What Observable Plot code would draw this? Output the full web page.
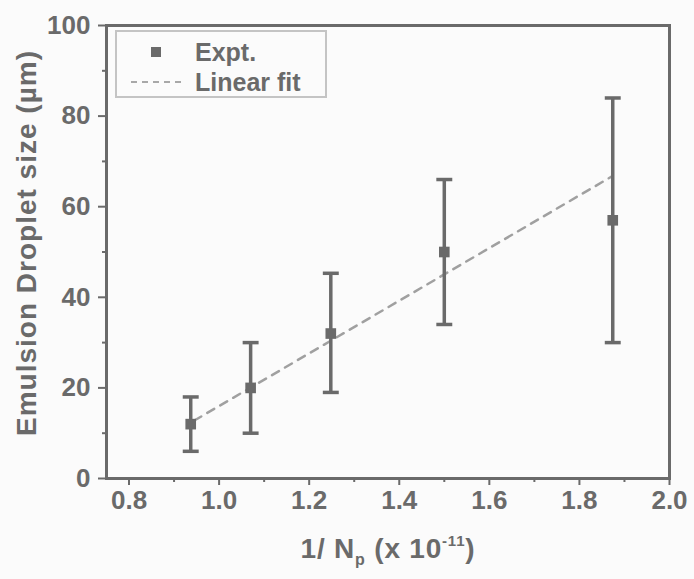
<!DOCTYPE html>
<html>
<head>
<meta charset="utf-8">
<script src="https://cdn.jsdelivr.net/npm/d3@7"></script>
<script src="https://cdn.jsdelivr.net/npm/@observablehq/plot@0.6"></script>
<style>
  html, body { margin: 0; padding: 0; background: #fbfbfb; }
  #wrap { position: relative; width: 694px; height: 579px; font-family: "Liberation Sans", Arial, sans-serif; }
  #legend { position: absolute; left: 115px; top: 30px; width: 212px; height: 68px; border: 2px solid #c4c4c4; box-sizing: border-box; background: #fbfbfb; color: #6a6a6a; font-weight: bold; font-size: 25px; }
  .row { position: absolute; left: 0; height: 30px; display: flex; align-items: center; }
  .sym { width: 78px; display: flex; justify-content: center; align-items: center; }
  .sq { width: 10px; height: 10px; background: #6a6a6a; }
  .dash { width: 50px; border-top: 2px dashed #a8a8a8; }
</style>
</head>
<body>
<div id="wrap">
  <div id="chart"></div>
  <div id="legend">
    <div class="row" style="top:5px"><div class="sym"><div class="sq"></div></div><span>Expt.</span></div>
    <div class="row" style="top:35px"><div class="sym"><div class="dash"></div></div><span>Linear fit</span></div>
  </div>
</div>
<script>
const invNp = [0.937, 1.07, 1.248, 1.5, 1.874];
const dropletSize = [12, 20, 32, 50, 57];
const errLow = [6, 10, 19, 34, 30];
const errHigh = [18, 30, 45.3, 66, 84];
const fitX = [0.945, 1.874];
const fitY = [12.8, 66.8];
const xMajor = [0.8, 1.0, 1.2, 1.4, 1.6, 1.8, 2.0];
const xMinor = [0.9, 1.1, 1.3, 1.5, 1.7, 1.9];
const yMajor = [0, 20, 40, 60, 80, 100];
const yMinor = [10, 30, 50, 70, 90];

const pts = invNp.map((x, i) => ({x, y: dropletSize[i], lo: errLow[i], hi: errHigh[i]}));
const fit = fitX.map((x, i) => ({x, y: fitY[i]}));

const gray = "#6a6a6a";
const capSymbol = {
  draw(context, size) {
    const r = Math.sqrt(size);
    context.moveTo(-r, 0);
    context.lineTo(r, 0);
  }
};
const tickFont = {fontSize: 26, fontWeight: "bold", letterSpacing: "2px"};

const chart = Plot.plot({
  width: 694,
  height: 579,
  marginLeft: 106,
  marginRight: 25,
  marginTop: 25,
  marginBottom: 101,
  style: {background: "transparent", fontFamily: "Liberation Sans, Arial, sans-serif", color: gray},
  x: {domain: [0.75, 2.0]},
  y: {domain: [0, 100]},
  marks: [
    Plot.axisX(xMajor, {tickSize: 7, tickPadding: 5, tickFormat: d3.format(".1f"), ...tickFont, strokeWidth: 2, label: null}),
    Plot.axisX(xMinor, {tickSize: 4, text: null, strokeWidth: 2, label: null}),
    Plot.axisY(yMajor, {tickSize: 8, tickPadding: 8, ...tickFont, strokeWidth: 2, label: null}),
    Plot.axisY(yMinor, {tickSize: 4, text: null, strokeWidth: 2, label: null}),
    Plot.frame({stroke: gray, strokeWidth: 3}),
    Plot.line(fit, {x: "x", y: "y", stroke: "#a0a0a0", strokeWidth: 2.5, strokeDasharray: "8,7"}),
    Plot.ruleX(pts, {x: "x", y1: "lo", y2: "hi", stroke: gray, strokeWidth: 3.5}),
    Plot.dot(pts, {x: "x", y: "lo", symbol: capSymbol, r: 4.5, stroke: gray, strokeWidth: 3.5}),
    Plot.dot(pts, {x: "x", y: "hi", symbol: capSymbol, r: 4.5, stroke: gray, strokeWidth: 3.5}),
    Plot.dot(pts, {x: "x", y: "y", symbol: "square", r: 6, fill: gray, stroke: null})
  ]
});
document.getElementById("chart").appendChild(chart);

const svg = d3.select(chart);
svg.append("text")
  .attr("transform", "translate(36,243) rotate(-90)")
  .attr("text-anchor", "middle")
  .attr("fill", gray)
  .attr("font-size", 28)
  .attr("font-weight", "bold")
  .attr("letter-spacing", "1px")
  .text("Emulsion Droplet size (µm)");
const xl = svg.append("text")
  .attr("x", 388).attr("y", 558)
  .attr("text-anchor", "middle")
  .attr("fill", gray)
  .attr("font-size", 28)
  .attr("font-weight", "bold")
  .attr("letter-spacing", "0.8px");
xl.append("tspan").text("1/ N");
xl.append("tspan").attr("font-size", 16).attr("dy", 7).text("p");
xl.append("tspan").attr("dy", -7).text(" (x 10");
xl.append("tspan").attr("font-size", 15).attr("dy", -12).text("-11");
xl.append("tspan").attr("dy", 12).text(")");
</script>
</body>
</html>
